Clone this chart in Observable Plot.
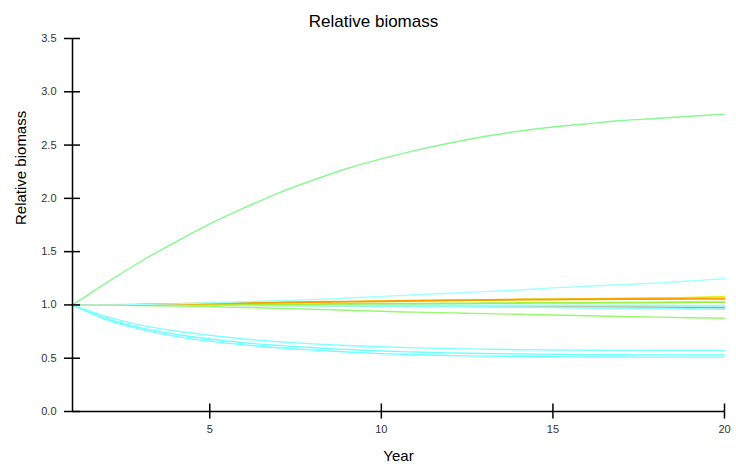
<!DOCTYPE html>
<html>
<head>
<meta charset="utf-8">
<script src="https://cdn.jsdelivr.net/npm/d3@7"></script>
<script src="https://cdn.jsdelivr.net/npm/@observablehq/plot@0.6"></script>
<style>
  html, body { margin: 0; padding: 0; background: #fff; }
  svg { display: block; }
</style>
</head>
<body>
<div id="chart"></div>
<script>
const years = [1,2,3,4,5,6,7,8,9,10,11,12,13,14,15,16,17,18,19,20];

const greenRise   = [1.00,1.21,1.41,1.59,1.76,1.91,2.05,2.17,2.28,2.37,2.45,2.52,2.58,2.63,2.67,2.70,2.73,2.75,2.77,2.79];
const cyanRise    = [1.00,1.00,1.005,1.01,1.02,1.03,1.04,1.05,1.065,1.08,1.095,1.11,1.125,1.14,1.16,1.175,1.19,1.205,1.225,1.245];
const orangeLine  = [1.00,1.00,1.003,1.008,1.013,1.018,1.023,1.027,1.031,1.035,1.039,1.043,1.047,1.05,1.052,1.054,1.055,1.056,1.057,1.058];
const yellowLine  = [1.00,1.00,1.002,1.006,1.01,1.015,1.02,1.025,1.03,1.034,1.038,1.042,1.046,1.05,1.054,1.058,1.062,1.066,1.07,1.078];
const limeLine    = [1.00,1.00,1.001,1.002,1.003,1.005,1.006,1.008,1.01,1.012,1.013,1.015,1.016,1.018,1.019,1.02,1.022,1.023,1.025,1.026];
const cyanFlat    = [1.00,1.00,1.00,1.00,0.999,0.999,0.998,0.998,0.997,0.997,0.996,0.996,0.995,0.995,0.995,0.994,0.994,0.994,0.993,0.993];
const cyanDip     = [1.00,1.00,0.999,0.998,0.997,0.996,0.995,0.993,0.991,0.989,0.987,0.985,0.982,0.979,0.976,0.972,0.969,0.966,0.963,0.96];
const brownLine   = [1.00,1.00,0.999,0.998,0.997,0.996,0.995,0.994,0.993,0.992,0.991,0.99,0.989,0.988,0.987,0.985,0.983,0.98,0.978,0.975];
const greenDecl   = [1.00,1.00,0.995,0.99,0.985,0.975,0.968,0.96,0.95,0.94,0.932,0.925,0.918,0.912,0.905,0.898,0.892,0.886,0.88,0.875];
const cyanLowA    = [1.00,0.89,0.81,0.755,0.715,0.68,0.655,0.635,0.62,0.607,0.597,0.59,0.585,0.58,0.577,0.575,0.574,0.573,0.572,0.572];
const cyanLowB    = [1.00,0.87,0.785,0.725,0.68,0.645,0.62,0.598,0.582,0.568,0.558,0.55,0.544,0.54,0.537,0.534,0.532,0.531,0.53,0.53];
const cyanLowC    = [1.00,0.86,0.77,0.705,0.66,0.625,0.598,0.576,0.558,0.543,0.532,0.525,0.52,0.516,0.514,0.512,0.511,0.51,0.51,0.51];

const seriesNames  = ["cyanLowC","cyanLowB","cyanLowA","greenDecl","brownLine","cyanDip","cyanFlat","limeLine","yellowLine","orangeLine","cyanRise","greenRise"];
const seriesValues = [cyanLowC,cyanLowB,cyanLowA,greenDecl,brownLine,cyanDip,cyanFlat,limeLine,yellowLine,orangeLine,cyanRise,greenRise];
const seriesColors = ["#70ffff","#70ffff","#80ffff","#98f870","#d89a40","#8cf8ff","#90ffff","#a0f040","#e2ee20","#f5a300","#a0ffff","#88f890"];
const seriesWidths = [1.4,1.4,1.4,1.4,1.6,1.6,2,1.8,1.6,2,1.4,1.4];

const xTicks = [5,10,15,20];
const yTicks = [0,0.5,1,1.5,2,2.5,3,3.5];

const rows = [];
seriesNames.forEach((name, i) => {
  seriesValues[i].forEach((v, j) => rows.push({series: name, year: years[j], value: v}));
});

const font = "'Liberation Sans', Arial, sans-serif";

const chart = Plot.plot({
  width: 736,
  height: 464,
  marginLeft: 72,
  marginRight: 12,
  marginTop: 38,
  marginBottom: 53,
  style: {fontFamily: font, background: "#fff", overflow: "visible"},
  x: {domain: [1, 20], axis: null},
  y: {domain: [0, 3.5], axis: null},
  color: {domain: seriesNames, range: seriesColors},
  marks: [
    seriesNames.map((name, i) =>
      Plot.lineY(rows.filter(r => r.series === name), {x: "year", y: "value", stroke: "series", strokeWidth: seriesWidths[i], curve: "monotone-x"})
    ),
    Plot.axisY({ticks: yTicks, tickSize: 16, dx: 8, tickPadding: 8, tickFormat: d3.format(".1f"), label: null, stroke: "#000", strokeWidth: 1.5, strokeOpacity: 1, fill: "#333", fontSize: 11}),
    Plot.axisX({ticks: xTicks, tickSize: 15, dy: -7.5, tickPadding: 6, tickFormat: d => String(d), label: null, stroke: "#000", strokeWidth: 1.5, strokeOpacity: 1, fill: "#333", fontSize: 11}),
    Plot.ruleX([1], {stroke: "#000", strokeWidth: 1.5}),
    Plot.ruleY([0], {stroke: "#000", strokeWidth: 1.5}),
    Plot.text(["Relative biomass"], {frameAnchor: "top", dx: -25, dy: -24, fontSize: 17, fill: "#000"}),
    Plot.text(["Relative biomass"], {frameAnchor: "left", dx: -51, rotate: -90, fontSize: 15, fill: "#000"}),
    Plot.text(["Year"], {frameAnchor: "bottom", dy: 49, fontSize: 15, fill: "#000"})
  ]
});
document.getElementById("chart").appendChild(chart);
</script>
</body>
</html>
